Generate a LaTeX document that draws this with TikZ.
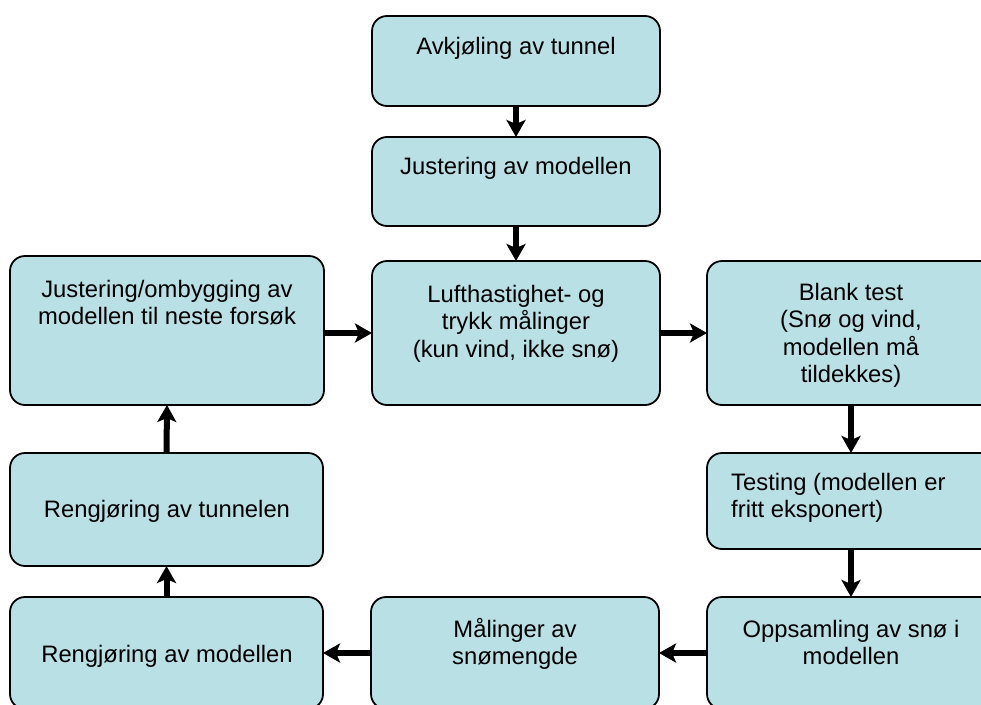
\documentclass[tikz,border=0pt]{standalone}
\usepackage{fontspec}
\setmainfont{Liberation Sans}
\usetikzlibrary{arrows.meta}
\definecolor{boxfill}{HTML}{B9E0E4}
\tikzset{
  box/.style={draw=black, line width=1.8pt, fill=boxfill, rounded corners=15pt, inner sep=0pt, outer sep=0pt},
  lbl/.style={font=\fontsize{23.8}{27.3}\selectfont, align=center, inner sep=0pt},
  flow/.style={line width=6pt, -{Stealth[length=17pt,width=19pt,inset=4pt]}}
}
\begin{document}
\begin{tikzpicture}[x=1pt,y=-1pt]
\useasboundingbox (0,0) rectangle (981,704);
\clip (0,0) rectangle (981,704);
% boxes
\node[box, minimum width=288pt, minimum height=90pt]  (b1)  at (516,61)    {};
\node[box, minimum width=288pt, minimum height=89pt]  (b2)  at (516,181.5) {};
\node[box, minimum width=288pt, minimum height=144pt] (b3)  at (516,333)   {};
\node[box, minimum width=314pt, minimum height=149pt] (b4)  at (167,330.5) {};
\node[box, minimum width=288pt, minimum height=144pt] (b5)  at (851,333)   {};
\node[box, minimum width=288pt, minimum height=96pt]  (b6)  at (851,501)   {};
\node[box, minimum width=288pt, minimum height=112pt] (b7)  at (851,653)   {};
\node[box, minimum width=288pt, minimum height=112pt] (b8)  at (515,653)   {};
\node[box, minimum width=313pt, minimum height=112pt] (b9)  at (166.5,653) {};
\node[box, minimum width=313pt, minimum height=113pt] (b10) at (166.5,509.5) {};
% texts
\node[lbl, anchor=north] (t1) at (516,37) {Avkjøling av tunnel};
\node[lbl, anchor=north] (t2) at (516,157) {Justering av modellen};
\node[lbl, anchor=north] (t3) at (516,285) {Lufthastighet- og\\trykk målinger\\(kun vind, ikke snø)};
\node[lbl, anchor=north] (t4) at (167,280) {Justering/ombygging av\\modellen til neste forsøk};
\node[lbl, anchor=north] (t5) at (851,283) {Blank test\\(Snø og vind,\\modellen må\\tildekkes)};
\node[lbl, anchor=north west, align=left] (t6) at (731,473) {Testing (modellen er\\fritt eksponert)};
\node[lbl, anchor=north] (t7) at (851,620) {Oppsamling av snø i\\modellen};
\node[lbl, anchor=north] (t8) at (515,618) {Målinger av\\snømengde};
\node[lbl, anchor=base] (t9) at (167,662) {Rengjøring av modellen};
\node[lbl, anchor=base] (t10) at (167,517) {Rengjøring av tunnelen};
% connectors
\draw[flow] (b1.south) -- (b2.north);
\draw[flow] (b2.south) -- (b3.north);
\draw[flow] (b4.east |- b3.west) -- (b3.west);
\draw[flow] (b3.east) -- (b5.west);
\draw[flow] (b5.south) -- (b6.north);
\draw[flow] (b6.south) -- (b7.north);
\draw[flow] (b7.west) -- (b8.east);
\draw[flow] (b8.west) -- (b9.east);
\draw[flow] (b9.north) -- (b10.south);
\draw[flow] (b10.north) -- (b4.south);
\end{tikzpicture}
\end{document}
